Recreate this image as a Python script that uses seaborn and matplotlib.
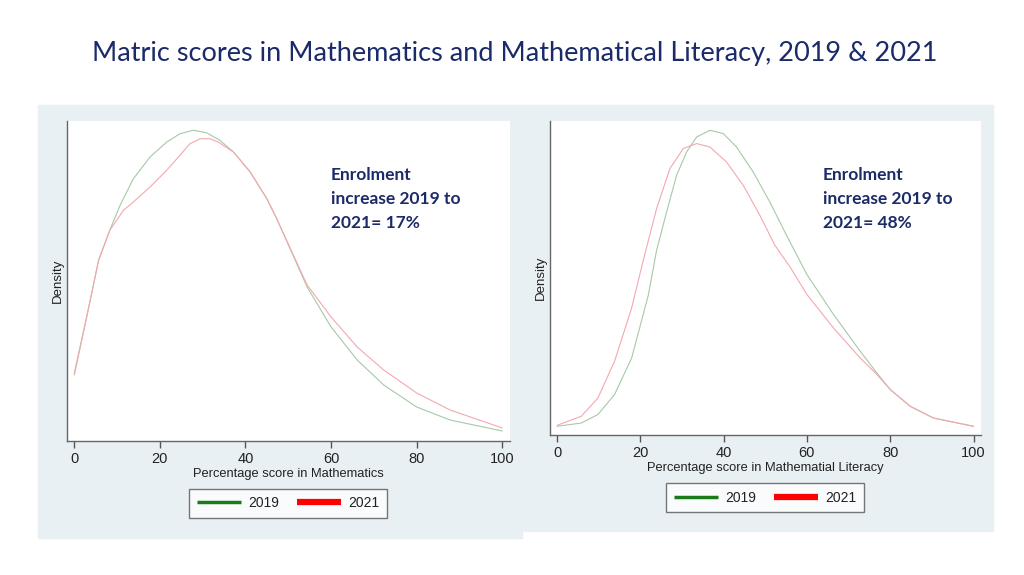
import matplotlib
matplotlib.use("Agg")
import matplotlib.pyplot as plt
import seaborn as sns
from matplotlib.patches import Rectangle
from matplotlib.lines import Line2D

# density curves
math_x_2019 = [0, 2.6, 5.7, 8.3, 10.7, 13.8, 17.7, 21.6, 24.7, 27.8, 30.9, 34.0, 37.2,
               41.1, 45.0, 47.3, 54.4, 60, 66.1, 72.3, 80, 87.8, 100]
math_d_2019 = [0.00528, 0.00944, 0.01448, 0.01686, 0.01886, 0.02098, 0.02272, 0.02392,
               0.02458, 0.02486, 0.02466, 0.02406, 0.02312, 0.02152, 0.01938, 0.01778,
               0.01232, 0.00912, 0.00648, 0.00448, 0.00272, 0.00168, 0.0008]
math_x_2021 = [0, 2.6, 5.7, 8.3, 11.5, 13.8, 17.7, 21.6, 24.7, 27.0, 29.4, 31.7, 33.6,
               37.2, 41.1, 45.0, 47.3, 54.4, 60, 66.1, 72.3, 80, 87.8, 100]
math_d_2021 = [0.00544, 0.00944, 0.01448, 0.01686, 0.01846, 0.01912, 0.02032, 0.02166,
               0.02286, 0.02378, 0.02418, 0.02418, 0.02392, 0.02312, 0.02152, 0.01938,
               0.01778, 0.01248, 0.00992, 0.00752, 0.00568, 0.00384, 0.00248, 0.00104]

lit_x_2019 = [0, 5.8, 9.8, 13.8, 17.9, 21.9, 23.9, 26.3, 28.7, 31.1, 33.5, 36.7, 39.9,
              43.1, 47.1, 51.1, 55.1, 60, 66.4, 72.8, 76.8, 80, 84.8, 90.4, 100]
lit_d_2019 = [0.00072, 0.00098, 0.00166, 0.00326, 0.00618, 0.0112, 0.0148, 0.01786,
              0.0208, 0.02266, 0.02386, 0.0244, 0.02414, 0.02306, 0.02106, 0.01866,
              0.016, 0.01286, 0.00966, 0.00672, 0.00498, 0.00366, 0.00232, 0.00138, 0.00072]
lit_x_2021 = [0, 5.8, 9.8, 13.8, 17.9, 20.7, 23.9, 27.1, 30.3, 33.5, 36.7, 40.7, 44.7,
              48.7, 52.3, 56, 60, 66.4, 72.8, 76.8, 80, 84.8, 90.4, 100]
lit_d_2021 = [0.0008, 0.00152, 0.00298, 0.00592, 0.01018, 0.0140, 0.01814, 0.02134,
              0.02294, 0.02334, 0.02306, 0.02186, 0.02, 0.0176, 0.0152, 0.01344,
              0.01126, 0.00858, 0.00618, 0.00486, 0.00366, 0.00232, 0.00138, 0.00072]

years = ["2019", "2021"]
xticks = [0, 20, 40, 60, 80, 100]
notes = ["Enrolment\nincrease 2019 to\n2021= 17%", "Enrolment\nincrease 2019 to\n2021= 48%"]
xlabels = ["Percentage score in Mathematics", "Percentage score in Mathematial Literacy"]

sns.set_style("white")
plt.rcParams["font.family"] = ["Liberation Sans", "DejaVu Sans"]

W, H = 1024, 575
fig = plt.figure(figsize=(10.24, 5.75), dpi=100)
fig.patch.set_facecolor("white")

panel = "#e9f0f3"
navy = "#1b2a68"
fig.add_artist(Rectangle((38 / W, 1 - 538 / H), (522 - 38) / W, (538 - 105) / H,
                         transform=fig.transFigure, color=panel, zorder=-5))
fig.add_artist(Rectangle((522 / W, 1 - 531 / H), (993 - 522) / W, (531 - 105) / H,
                         transform=fig.transFigure, color=panel, zorder=-5))

fig.text(0.503, 1 - 53 / H, "Matric scores in Mathematics and Mathematical Literacy, 2019 & 2021",
         ha="center", va="center", fontsize=19.5, color=navy, family=["Lato", "DejaVu Sans"])

green_faint = "#a6c9a6"
red_faint = "#f4a7b1"

boxes = [(67, 510, 121, 441), (550, 981, 121, 435.3)]
curves = [(math_x_2019, math_d_2019, math_x_2021, math_d_2021),
          (lit_x_2019, lit_d_2019, lit_x_2021, lit_d_2021)]
note_pos = [(331, 167), (823, 167)]
legend_pos = [(288, 503.3), (765, 497.8)]
ylab_x = [58, 541]

for i in range(2):
    x0, x1, y0, y1 = boxes[i]
    ax = fig.add_axes([x0 / W, 1 - y1 / H, (x1 - x0) / W, (y1 - y0) / H])
    ax.set_facecolor("white")
    xa, ya, xb, yb = curves[i]
    sns.lineplot(x=xa, y=ya, ax=ax, color=green_faint, lw=0.8, legend=False)
    sns.lineplot(x=xb, y=yb, ax=ax, color=red_faint, lw=0.8, legend=False)
    ax.set_xlim(-1.7, 101.8)
    ax.set_ylim(0, (y1 - y0) * 8e-5)
    ax.set_xticks(xticks)
    ax.set_xticklabels([str(t) for t in xticks])
    ax.set_yticks([])
    ax.tick_params(axis="x", length=5, width=1, color="#555555", labelsize=10.5,
                   labelcolor="#222222", pad=3, direction="out", bottom=True)
    for s in ["top", "right"]:
        ax.spines[s].set_visible(False)
    for s in ["left", "bottom"]:
        ax.spines[s].set_color("#666666")
        ax.spines[s].set_linewidth(1)
    ax.set_xlabel(xlabels[i], fontsize=9.3, color="#222222", labelpad=1)
    ax.set_ylabel("")
    fig.text(ylab_x[i] / W, 1 - ((y0 + y1) / 2) / H, "Density", rotation=90,
             ha="center", va="center", fontsize=9.5, color="#222222")
    fig.text(note_pos[i][0] / W, 1 - note_pos[i][1] / H, notes[i], ha="left", va="top",
             fontsize=12.5, fontweight="bold", color=navy, linespacing=1.6,
             family=["Lato", "DejaVu Sans"])
    handles = [Line2D([], [], color="#1a7a1a", lw=2.5, solid_capstyle="butt"),
               Line2D([], [], color="#ff0000", lw=4.5, solid_capstyle="butt")]
    leg = ax.legend(handles, years, ncol=2, loc="center",
                    bbox_to_anchor=(legend_pos[i][0] / W, 1 - legend_pos[i][1] / H),
                    bbox_transform=fig.transFigure, frameon=True, fancybox=False,
                    edgecolor="#555555", fontsize=10, handlelength=3.2,
                    handletextpad=0.5, columnspacing=1.3, borderpad=0.55,
                    borderaxespad=0)
    leg.get_frame().set_linewidth(1)
    leg.get_frame().set_facecolor("white")
    for t in leg.get_texts():
        t.set_color("#222222")

fig.savefig("out.png", dpi=100)
